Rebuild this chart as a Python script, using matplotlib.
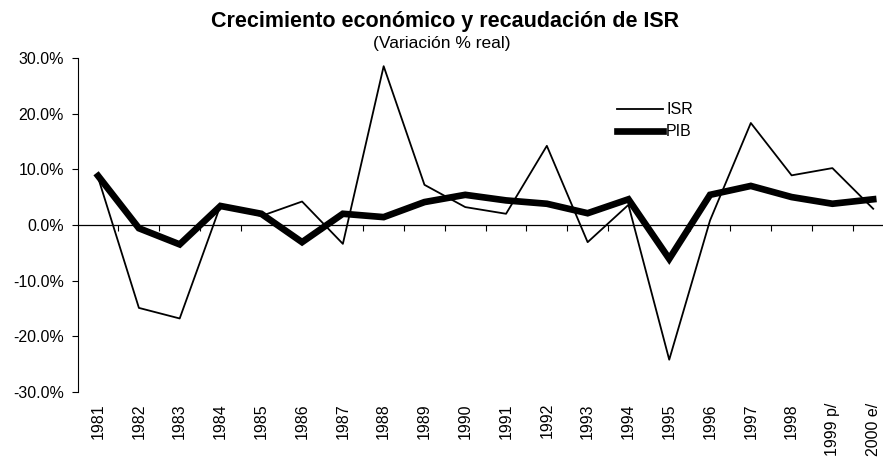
import matplotlib.pyplot as plt
import matplotlib.ticker as mticker

YEARS = ["1981", "1982", "1983", "1984", "1985", "1986", "1987", "1988", "1989", "1990",
         "1991", "1992", "1993", "1994", "1995", "1996", "1997", "1998", "1999 p/", "2000 e/"]
ISR = [8.5, -14.9, -16.8, 3.5, 1.6, 4.2, -3.4, 28.5, 7.2, 3.2,
       2.0, 14.2, -3.1, 3.6, -24.2, 0.8, 18.3, 8.9, 10.2, 2.9]
PIB = [8.8, -0.6, -3.5, 3.4, 2.0, -3.1, 2.0, 1.4, 4.1, 5.4,
       4.4, 3.8, 2.1, 4.6, -6.1, 5.4, 7.0, 5.0, 3.8, 4.6]

plt.rcParams["font.family"] = ["Liberation Sans", "DejaVu Sans"]

fig = plt.figure(figsize=(8.83, 4.59), dpi=100)
ax = fig.add_axes([0.088, 0.146, 0.924, 0.728])

x = list(range(len(YEARS)))
ax.plot(x, ISR, color="black", lw=1.3, label="ISR")
ax.plot(x, PIB, color="black", lw=4.8, label="PIB", solid_joinstyle="miter")

ax.set_xlim(-0.5, len(YEARS) - 0.5)
ax.set_ylim(-30, 30)
ax.set_yticks([-30, -20, -10, 0, 10, 20, 30])
ax.yaxis.set_major_formatter(mticker.FuncFormatter(lambda v, p: "{:.1f}%".format(v)))
ax.tick_params(axis="y", direction="out", length=4, labelsize=11.5, pad=6)

for side in ["top", "right", "bottom"]:
    ax.spines[side].set_visible(False)

ax.set_xticks(x)
ax.set_xticklabels(YEARS, rotation=90, fontsize=11.5)
ax.tick_params(axis="x", length=0, pad=8)

# zero line with category boundary ticks
sec = ax.secondary_xaxis(0, transform=ax.transData)
sec.set_xticks([i - 0.5 for i in x[1:]])
sec.set_xticklabels([])
sec.tick_params(axis="x", direction="out", length=4, width=0.8)
sec.spines["bottom"].set_linewidth(0.9)

leg = ax.legend(loc="upper left", bbox_to_anchor=(0.643, 0.91), frameon=False,
                fontsize=11.5, handlelength=2.9, handletextpad=0.2, labelspacing=0.45)

fig.text(0.504, 0.954, "Crecimiento económico y recaudación de ISR", ha="center", va="center",
         fontsize=15.5, fontweight="bold")
fig.text(0.50, 0.906, "(Variación % real)", ha="center", va="center", fontsize=12.5)

fig.savefig("out.png", dpi=100)
